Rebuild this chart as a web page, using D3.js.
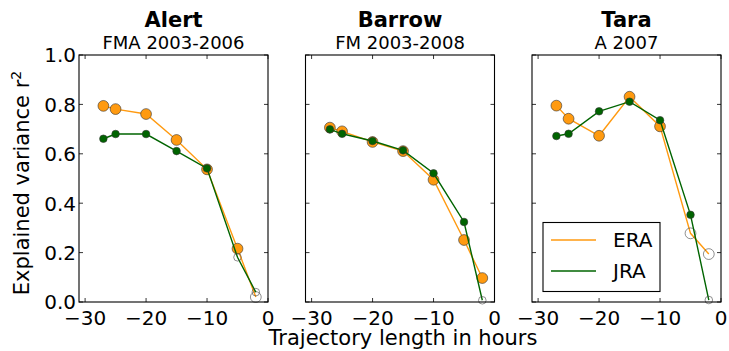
<!DOCTYPE html>
<html>
<head>
<meta charset="utf-8">
<script src="https://cdn.jsdelivr.net/npm/d3@7"></script>
<style>
  html, body { margin: 0; padding: 0; background: #fff; }
  svg text { font-family: "DejaVu Sans", sans-serif; fill: #000; }
</style>
</head>
<body>
<svg id="chart" width="729" height="351"></svg>
<script>
// Trajectory lengths (hours) at which r² was evaluated
const hours = [-27, -25, -20, -15, -10, -5, -2];

const stations = ["Alert", "Barrow", "Tara"];
const periods = ["FMA 2003-2006", "FM 2003-2008", "A 2007"];

// Explained variance r² per station and reanalysis
const eraAlert  = [0.794, 0.781, 0.761, 0.656, 0.537, 0.216, 0.020];
const jraAlert  = [0.661, 0.680, 0.680, 0.611, 0.541, 0.181, 0.040];
const eraBarrow = [0.706, 0.691, 0.648, 0.611, 0.495, 0.251, 0.097];
const jraBarrow = [0.699, 0.681, 0.652, 0.614, 0.521, 0.324, 0.007];
const eraTara   = [0.795, 0.742, 0.673, 0.831, 0.711, 0.278, 0.194];
const jraTara   = [0.672, 0.681, 0.772, 0.811, 0.736, 0.353, 0.008];

// 1 = significant (filled marker), 0 = not significant (open marker)
const eraAlertSig  = [1, 1, 1, 1, 1, 1, 0];
const jraAlertSig  = [1, 1, 1, 1, 1, 0, 0];
const eraBarrowSig = [1, 1, 1, 1, 1, 1, 1];
const jraBarrowSig = [1, 1, 1, 1, 1, 1, 0];
const eraTaraSig   = [1, 1, 1, 1, 1, 0, 0];
const jraTaraSig   = [1, 1, 1, 1, 1, 1, 0];

const xTicks = [-30, -20, -10, 0];
const yTicks = [0, 0.2, 0.4, 0.6, 0.8, 1.0];
const seriesNames = ["ERA", "JRA"];

const eraColor = "#ff9a10";
const jraColor = "#006400";

const panels = [
  { era: eraAlert,  jra: jraAlert,  eraSig: eraAlertSig,  jraSig: jraAlertSig },
  { era: eraBarrow, jra: jraBarrow, eraSig: eraBarrowSig, jraSig: jraBarrowSig },
  { era: eraTara,   jra: jraTara,   eraSig: eraTaraSig,   jraSig: jraTaraSig }
];

const svg = d3.select("#chart");
const plotTop = 55, plotH = 247, plotW = 189;
const lefts = [79, 305.5, 532];

const y = d3.scaleLinear().domain([0, 1]).range([plotTop + plotH, plotTop]);

panels.forEach((p, i) => {
  const x0 = lefts[i];
  const x = d3.scaleLinear().domain([-31, 0]).range([x0, x0 + plotW]);
  const g = svg.append("g");

  // inward ticks on all four sides
  const tl = 4;
  xTicks.forEach(t => {
    g.append("line").attr("x1", x(t)).attr("x2", x(t))
      .attr("y1", plotTop + plotH).attr("y2", plotTop + plotH - tl)
      .attr("stroke", "#000").attr("stroke-width", 0.8);
    g.append("line").attr("x1", x(t)).attr("x2", x(t))
      .attr("y1", plotTop).attr("y2", plotTop + tl)
      .attr("stroke", "#000").attr("stroke-width", 0.8);
    g.append("text").attr("x", x(t)).attr("y", plotTop + plotH + 22.5)
      .attr("text-anchor", "middle").attr("font-size", 20)
      .text(d3.format("")(t).replace("-", "\u2212"));
  });
  yTicks.forEach(t => {
    g.append("line").attr("x1", x0).attr("x2", x0 + tl)
      .attr("y1", y(t)).attr("y2", y(t))
      .attr("stroke", "#000").attr("stroke-width", 0.8);
    g.append("line").attr("x1", x0 + plotW).attr("x2", x0 + plotW - tl)
      .attr("y1", y(t)).attr("y2", y(t))
      .attr("stroke", "#000").attr("stroke-width", 0.8);
    if (i === 0) {
      g.append("text").attr("x", x0 - 3).attr("y", y(t) + 7.3)
        .attr("text-anchor", "end").attr("font-size", 20)
        .text(d3.format(".1f")(t));
    }
  });

  const line = d3.line().x((d, k) => x(hours[k])).y(d => y(d));

  const drawSeries = (vals, sig, color, r) => {
    g.append("path").datum(vals).attr("d", line)
      .attr("fill", "none").attr("stroke", color).attr("stroke-width", 1.4);
    g.selectAll(null).data(vals).enter().append("circle")
      .attr("cx", (d, k) => x(hours[k])).attr("cy", d => y(d)).attr("r", r)
      .attr("fill", (d, k) => sig[k] ? color : "none")
      .attr("stroke", (d, k) => sig[k] ? "#333" : "#444")
      .attr("stroke-width", 0.6);
  };
  drawSeries(p.era, p.eraSig, eraColor, 5.4);
  drawSeries(p.jra, p.jraSig, jraColor, 3.8);

  // frame
  g.append("rect").attr("x", x0).attr("y", plotTop).attr("width", plotW).attr("height", plotH)
    .attr("fill", "none").attr("stroke", "#000").attr("stroke-width", 1.1);

  // titles
  const cx = x0 + plotW / 2;
  g.append("text").attr("x", cx).attr("y", 27).attr("text-anchor", "middle")
    .attr("font-size", 21).attr("font-weight", "bold").text(stations[i]);
  g.append("text").attr("x", cx).attr("y", 49).attr("text-anchor", "middle")
    .attr("font-size", 18).text(periods[i]);

  // legend in the last panel
  if (i === 2) {
    const lg = g.append("g");
    lg.append("rect").attr("x", 543).attr("y", 222.5).attr("width", 117).attr("height", 69)
      .attr("fill", "#fff").attr("stroke", "#000").attr("stroke-width", 1.1);
    [eraColor, jraColor].forEach((c, k) => {
      const ly = 240 + k * 31;
      lg.append("line").attr("x1", 551).attr("x2", 596).attr("y1", ly).attr("y2", ly)
        .attr("stroke", c).attr("stroke-width", 1.4);
      lg.append("text").attr("x", 613).attr("y", ly + 7.3).attr("font-size", 20)
        .text(seriesNames[k]);
    });
  }
});

// axis labels
svg.append("text").attr("x", 403).attr("y", 345).attr("text-anchor", "middle")
  .attr("font-size", 21).text("Trajectory length in hours");

const yl = svg.append("text").attr("transform", "translate(29,183) rotate(-90)")
  .attr("text-anchor", "middle").attr("font-size", 21);
yl.append("tspan").text("Explained variance r");
yl.append("tspan").attr("dy", -8).attr("font-size", 14).text("2");
</script>
</body>
</html>
